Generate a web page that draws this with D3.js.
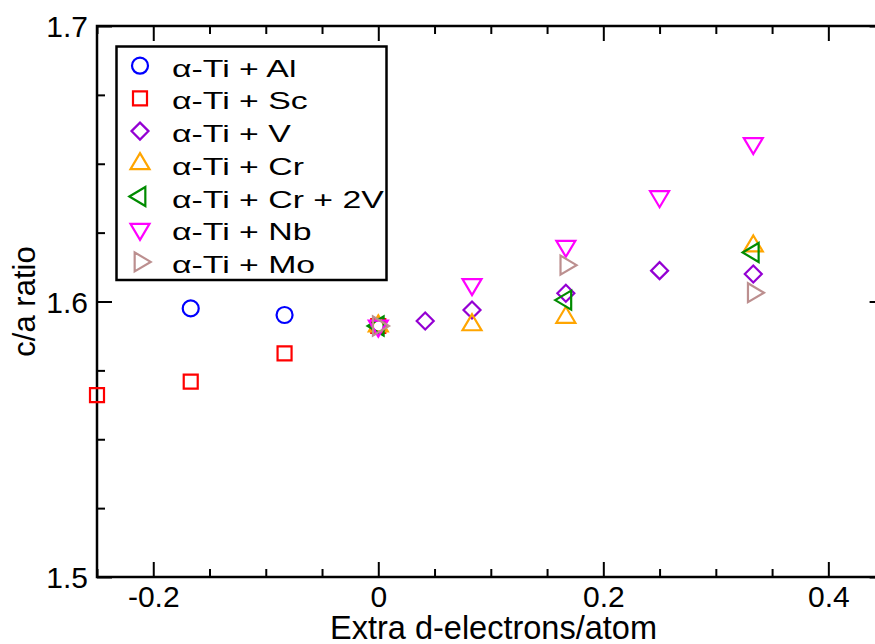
<!DOCTYPE html>
<html>
<head>
<meta charset="utf-8">
<script src="https://cdn.jsdelivr.net/npm/d3@7"></script>
<style>
body { margin: 0; background: #fff; }
svg { display: block; font-family: "Liberation Sans", Arial, sans-serif; }
</style>
</head>
<body>
<script>
// series names, colors and symbols
var seriesNames = ["α-Ti + Al", "α-Ti + Sc", "α-Ti + V", "α-Ti + Cr", "α-Ti + Cr + 2V", "α-Ti + Nb", "α-Ti + Mo"];
var seriesColors = ["#0000ff", "#ff0000", "#9400d3", "#ffa500", "#008b00", "#ff00ff", "#bc8f8f"];
var seriesSymbols = ["circle", "square", "diamond", "up", "left", "down", "right"];

// extra d-electrons per atom (x) and c/a ratio (y) for each series
var alX = [-0.1667, -0.0833, 0];
var alY = [1.5975, 1.5951, 1.5911];
var scX = [-0.25, -0.1667, -0.0833, 0];
var scY = [1.5660, 1.5709, 1.5812, 1.5911];
var vX = [0, 0.0417, 0.0833, 0.1667, 0.25, 0.3333];
var vY = [1.5911, 1.5929, 1.5969, 1.6030, 1.6112, 1.6100];
var crX = [0, 0.0833, 0.1667, 0.3333];
var crY = [1.5911, 1.5915, 1.5942, 1.6201];
var crvX = [0, 0.1667, 0.3333];
var crvY = [1.5911, 1.6005, 1.6178];
var nbX = [0, 0.0833, 0.1667, 0.25, 0.3333];
var nbY = [1.5911, 1.6062, 1.6201, 1.6381, 1.6574];
var moX = [0, 0.1667, 0.3333];
var moY = [1.5911, 1.6132, 1.6032];

var xMajor = [-0.2, 0, 0.2, 0.4];
var xMinor = [-0.25, -0.15, -0.1, -0.05, 0.05, 0.1, 0.15, 0.25, 0.3, 0.35, 0.45];
var yMajor = [1.5, 1.6, 1.7];
var yMinor = [1.525, 1.55, 1.575, 1.625, 1.65, 1.675];

var allX = [alX, scX, vX, crX, crvX, nbX, moX];
var allY = [alY, scY, vY, crY, crvY, nbY, moY];

var width = 875, height = 644;
var pLeft = 97, pTop = 26, pRight = 884.6, pBottom = 577;

var svg = d3.select("body").append("svg")
	.attr("width", width)
	.attr("height", height);

var x = d3.scaleLinear().domain([-0.25, 0.45]).range([pLeft, pRight]);
var y = d3.scaleLinear().domain([1.5, 1.7]).range([pBottom, pTop]);

function fmt(d){
	if (Math.abs(d) < 1e-9) return "0";
	return String(+d.toFixed(2));
}

// bottom axis
var gx = svg.append("g").attr("transform", "translate(0," + pBottom + ")");
gx.call(d3.axisBottom(x).tickValues(xMajor).tickSize(-15).tickFormat(fmt));
gx.append("g").call(d3.axisBottom(x).tickValues(xMinor).tickSize(-8).tickFormat(""));
// top axis
var gxt = svg.append("g").attr("transform", "translate(0," + pTop + ")");
gxt.call(d3.axisTop(x).tickValues(xMajor).tickSize(-15).tickFormat(""));
gxt.append("g").call(d3.axisTop(x).tickValues(xMinor).tickSize(-8).tickFormat(""));
// left axis
var gy = svg.append("g").attr("transform", "translate(" + pLeft + ",0)");
gy.call(d3.axisLeft(y).tickValues(yMajor).tickSize(-15).tickFormat(d3.format(".1f")));
gy.append("g").call(d3.axisLeft(y).tickValues(yMinor).tickSize(-8).tickFormat(""));
// right axis
var gyr = svg.append("g").attr("transform", "translate(" + pRight + ",0)");
gyr.call(d3.axisRight(y).tickValues(yMajor).tickSize(-15).tickFormat(""));
gyr.append("g").call(d3.axisRight(y).tickValues(yMinor).tickSize(-8).tickFormat(""));

svg.selectAll(".domain").remove();
svg.selectAll(".tick line").attr("stroke", "#000").attr("stroke-width", 2);
svg.append("rect")
	.attr("x", pLeft).attr("y", pTop)
	.attr("width", pRight - pLeft).attr("height", pBottom - pTop)
	.attr("fill", "none").attr("stroke", "#000").attr("stroke-width", 2.5);

svg.selectAll(".tick text").attr("font-family", "Liberation Sans, Arial, sans-serif");
gx.selectAll(".tick text").attr("font-size", 30).attr("fill", "#000").attr("y", 9).attr("dy", "0.71em");
gy.selectAll(".tick text").attr("font-size", 30).attr("fill", "#000").attr("x", -9).attr("dy", "0.35em");

svg.append("text")
	.attr("x", 493.5)
	.attr("y", 639)
	.attr("text-anchor", "middle")
	.attr("font-size", 32.5)
	.text("Extra d-electrons/atom");
svg.append("text")
	.attr("transform", "translate(35," + ((pTop + pBottom) / 2) + ") rotate(-90)")
	.attr("text-anchor", "middle")
	.attr("font-size", 31)
	.text("c/a ratio");

// marker shapes
function symbolPath(kind){
	var h = 16, w = 19;
	if (kind === "circle") return "M8,0A8,8 0 1,1 -8,0A8,8 0 1,1 8,0Z";
	if (kind === "square") return "M-7,-7H7V7H-7Z";
	if (kind === "diamond") return "M0,-8.5L8.5,0L0,8.5L-8.5,0Z";
	if (kind === "up") return "M0," + (-2 * h / 3) + "L" + (w / 2) + "," + (h / 3) + "L" + (-w / 2) + "," + (h / 3) + "Z";
	if (kind === "down") return "M0," + (2 * h / 3) + "L" + (w / 2) + "," + (-h / 3) + "L" + (-w / 2) + "," + (-h / 3) + "Z";
	if (kind === "left") return "M" + (-2 * h / 3) + ",0L" + (h / 3) + "," + (-w / 2) + "L" + (h / 3) + "," + (w / 2) + "Z";
	return "M" + (2 * h / 3) + ",0L" + (-h / 3) + "," + (-w / 2) + "L" + (-h / 3) + "," + (w / 2) + "Z";
}

seriesNames.forEach(function(name, i){
	var pts = allX[i].map(function(d, j){ return {x: d, y: allY[i][j]}; });
	svg.append("g").selectAll("path")
		.data(pts)
		.enter()
		.append("path")
		.attr("transform", function(d){ return "translate(" + x(d.x) + "," + y(d.y) + ")"; })
		.attr("d", symbolPath(seriesSymbols[i]))
		.attr("fill", "none")
		.attr("stroke", seriesColors[i])
		.attr("stroke-width", 2.2);
});

// legend
var legend = svg.append("g");
legend.append("rect")
	.attr("x", 116.5).attr("y", 46.5)
	.attr("width", 270).attr("height", 233.5)
	.attr("fill", "#fff").attr("stroke", "#000").attr("stroke-width", 2.5);
var rows = legend.selectAll("g.row")
	.data(seriesNames)
	.enter()
	.append("g")
	.attr("class", "row")
	.attr("transform", function(d, i){ return "translate(140," + (65.7 + i * 32.7) + ")"; });
rows.append("path")
	.attr("d", function(d, i){ return symbolPath(seriesSymbols[i]); })
	.attr("fill", "none")
	.attr("stroke", function(d, i){ return seriesColors[i]; })
	.attr("stroke-width", 2.2);
rows.append("text")
	.attr("transform", "translate(32,11) scale(1.38,1)")
	.attr("font-size", 24.5)
	.text(function(d){ return d; });
</script>
</body>
</html>
